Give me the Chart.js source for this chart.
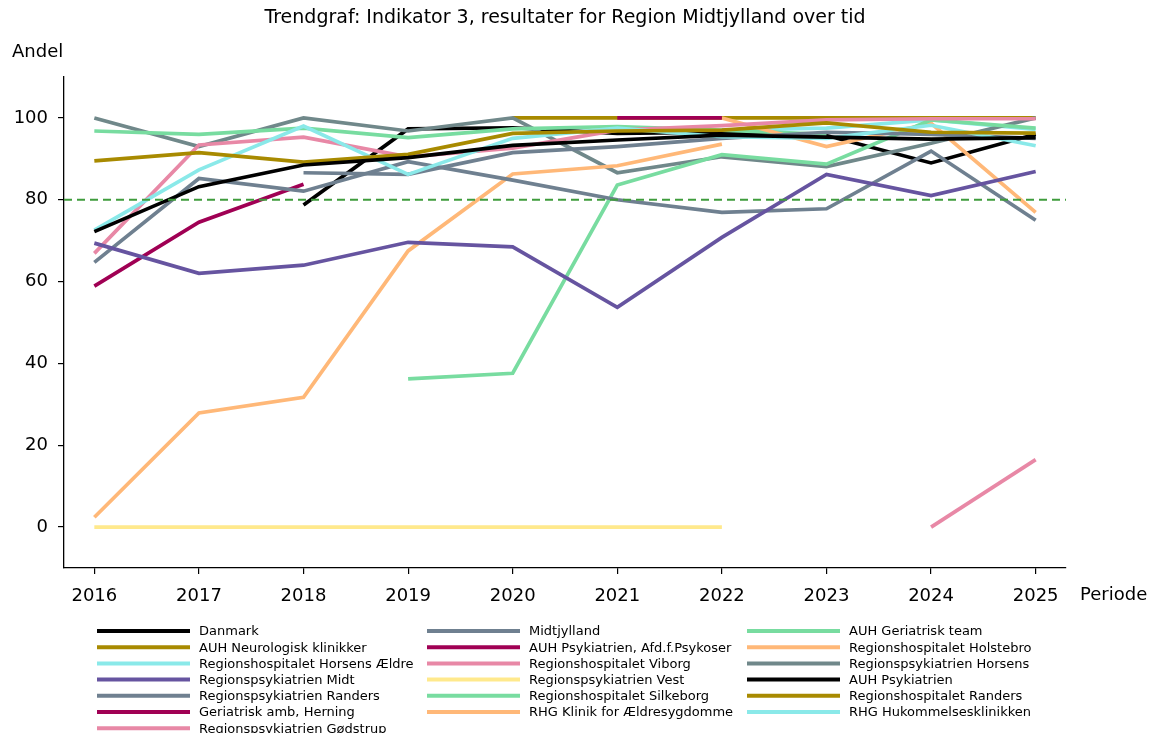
<!DOCTYPE html>
<html>
<head>
<meta charset="utf-8">
<script src="https://cdn.jsdelivr.net/npm/chart.js@4.4.1/dist/chart.umd.min.js"></script>
<style>
  html, body { margin: 0; padding: 0; background: #fff; }
  #wrap { width: 1158px; height: 733px; }
</style>
</head>
<body>
<div id="wrap"><canvas id="trendChart"></canvas></div>
<script>
// Data
const years = [2016, 2017, 2018, 2019, 2020, 2021, 2022, 2023, 2024, 2025];
const yTicks = [0, 20, 40, 60, 80, 100];
const targetValue = 80;

const danmark            = [72.2, 83.2, 88.5, 90.3, 93.3, 94.6, 95.8, 95.3, 94.8, 95.2];
const auhNeurologisk     = [89.5, 91.5, 89.2, 91.1, 96.2, 96.8, 97.0, 98.8, 96.5, 96.3];
const rhHorsensAeldre    = [72.6, 87.3, 98.0, 86.2, 95.0, 97.5, 95.4, 95.0, 98.2, 93.2];
const rpMidt             = [69.4, 62.0, 64.0, 69.6, 68.5, 53.7, 70.8, 86.2, 81.0, 86.9];
const rpRanders          = [64.7, 85.2, 82.1, 89.3, 84.8, 80.0, 76.9, 77.8, 91.9, 75.0];
const geriatriskHerning  = [58.9, 74.5, 83.8, null, null, null, null, null, null, null];
const rpGodstrup         = [null, null, null, null, null, null, null, null, 0.0, 16.5];
const midtjylland        = [null, null, 86.6, 86.2, 91.5, 93.0, 95.0, 96.5, 96.0, 95.0];
const auhPsykoser        = [null, null, null, null, null, 100, 100, null, null, null];
const rhViborg           = [66.9, 93.4, 95.3, 90.5, 92.6, 97.0, 98.1, 99.5, 99.8, 99.8];
const rpVest             = [0, 0, 0, 0, 0, 0, 0, null, null, null];
const rhSilkeborg        = [null, null, null, 36.2, 37.6, 83.6, 91.0, 88.7, 99.5, 97.5];
const rhgKlinik          = [null, null, null, null, null, null, 100, 93.0, 98.7, 76.9];
const auhGeriatrisk      = [96.8, 96.0, 97.5, 95.2, 97.3, 97.9, 97.0, 96.0, null, null];
const rhHolstebro        = [2.4, 27.9, 31.7, 67.5, 86.3, 88.3, 93.6, null, null, null];
const rpHorsens          = [100, 93.0, 100, 96.8, 100, 86.6, 90.5, 88.1, 93.8, 100];
const auhPsykiatrien     = [null, null, 78.7, 97.3, 97.6, 96.2, 96.5, 95.7, 89.0, 96.0];
const rhRanders          = [null, null, null, null, 100, 100, 100, 100, 100, 100];
const rhgHukommelse      = [null, null, null, null, null, null, 97.0, 97.5, 99.5, 97.2];

const series = [
    { label: 'Danmark', data: danmark, color: '#000000' },
    { label: 'AUH Neurologisk klinikker', data: auhNeurologisk, color: '#a88a00' },
    { label: 'Regionshospitalet Horsens Ældre', data: rhHorsensAeldre, color: '#8ae9e9' },
    { label: 'Regionspsykiatrien Midt', data: rpMidt, color: '#6654a0' },
    { label: 'Regionspsykiatrien Randers', data: rpRanders, color: '#6f8090' },
    { label: 'Geriatrisk amb, Herning', data: geriatriskHerning, color: '#a00054' },
    { label: 'Regionspsykiatrien Gødstrup', data: rpGodstrup, color: '#e888a6' },
    { label: 'Midtjylland', data: midtjylland, color: '#6f8090' },
    { label: 'AUH Psykiatrien, Afd.f.Psykoser', data: auhPsykoser, color: '#a00054' },
    { label: 'Regionshospitalet Viborg', data: rhViborg, color: '#e888a6' },
    { label: 'Regionspsykiatrien Vest', data: rpVest, color: '#ffe98c' },
    { label: 'Regionshospitalet Silkeborg', data: rhSilkeborg, color: '#78dca0' },
    { label: 'RHG Klinik for Ældresygdomme', data: rhgKlinik, color: '#ffb878' },
    { label: 'AUH Geriatrisk team', data: auhGeriatrisk, color: '#78dca0' },
    { label: 'Regionshospitalet Holstebro', data: rhHolstebro, color: '#ffb878' },
    { label: 'Regionspsykiatrien Horsens', data: rpHorsens, color: '#70888a' },
    { label: 'AUH Psykiatrien', data: auhPsykiatrien, color: '#000000' },
    { label: 'Regionshospitalet Randers', data: rhRanders, color: '#a88a00' },
    { label: 'RHG Hukommelsesklinikken', data: rhgHukommelse, color: '#8ae9e9' }
];

const FONT = 'DejaVu Sans';

// Titles, target line and legend drawn on the canvas
const extrasPlugin = {
    id: 'extras',
    afterDatasetsDraw(chart) {
        const { ctx, chartArea, scales } = chart;
        const y = scales.y.getPixelForValue(targetValue);
        ctx.save();
        ctx.strokeStyle = '#3f9c3c';
        ctx.lineWidth = 2;
        ctx.setLineDash([8, 5]);
        ctx.beginPath();
        ctx.moveTo(chartArea.left, y);
        ctx.lineTo(chartArea.right, y);
        ctx.stroke();
        ctx.restore();
    },
    afterDraw(chart) {
        const { ctx, chartArea } = chart;
        ctx.save();
        ctx.fillStyle = '#000';
        ctx.textBaseline = 'middle';

        ctx.font = '19px "' + FONT + '"';
        ctx.textAlign = 'center';
        ctx.fillText('Trendgraf: Indikator 3, resultater for Region Midtjylland over tid',
            (chartArea.left + chartArea.right) / 2, 18);

        ctx.font = '18px "' + FONT + '"';
        ctx.textAlign = 'left';
        ctx.fillText('Andel', 12, 52);
        ctx.fillText('Periode', chartArea.right + 14, 595);

        // legend, filled column by column like matplotlib (7, 6, 6)
        const nCol = 3;
        const base = Math.floor(series.length / nCol);
        const extra = series.length % nCol;
        const colX = [97, 427, 747];
        ctx.font = '13px "' + FONT + '"';
        let idx = 0;
        for (let col = 0; col < nCol; col++) {
            const count = base + (col < extra ? 1 : 0);
            for (let row = 0; row < count; row++, idx++) {
                const s = series[idx];
                const x = colX[col];
                const yy = 631 + row * 16.2;
                ctx.strokeStyle = s.color;
                ctx.lineWidth = 4;
                ctx.beginPath();
                ctx.moveTo(x, yy);
                ctx.lineTo(x + 93, yy);
                ctx.stroke();
                ctx.fillText(s.label, x + 102, yy + 1);
            }
        }
        ctx.restore();
    }
};

const ctx = document.getElementById('trendChart');

new Chart(ctx, {
    type: 'line',
    data: {
        datasets: series.map(s => ({
            label: s.label,
            data: years.map((yr, i) => ({ x: yr, y: s.data[i] })),
            borderColor: s.color,
            backgroundColor: s.color,
            borderWidth: 3.7,
            pointRadius: 0,
            fill: false,
            tension: 0,
            spanGaps: false
        }))
    },
    options: {
        responsive: true,
        maintainAspectRatio: false,
        animation: false,
        devicePixelRatio: 1,
        layout: { padding: { top: 77, right: 92, bottom: 125, left: 0 } },
        plugins: {
            legend: { display: false },
            title: { display: false },
            tooltip: { enabled: false }
        },
        scales: {
            x: {
                type: 'linear',
                min: 2015.71,
                max: 2025.29,
                afterBuildTicks: scale => { scale.ticks = years.map(v => ({ value: v })); },
                afterFit: scale => { scale.height = 40; },
                ticks: {
                    color: '#000',
                    font: { family: FONT, size: 18 },
                    padding: 12,
                    maxRotation: 0,
                    callback: v => String(v)
                },
                grid: { display: true, drawOnChartArea: false, drawTicks: true, tickLength: 6, color: '#000', lineWidth: 1.2 },
                border: { display: true, color: '#000', width: 1.3 }
            },
            y: {
                min: -10,
                max: 110,
                afterBuildTicks: scale => { scale.ticks = yTicks.map(v => ({ value: v })); },
                afterFit: scale => { scale.width = 64; },
                ticks: {
                    color: '#000',
                    font: { family: FONT, size: 18 },
                    padding: 10
                },
                grid: { display: true, drawOnChartArea: false, drawTicks: true, tickLength: 6, color: '#000', lineWidth: 1.2 },
                border: { display: true, color: '#000', width: 1.3 }
            }
        }
    },
    plugins: [extrasPlugin]
});
</script>
</body>
</html>
